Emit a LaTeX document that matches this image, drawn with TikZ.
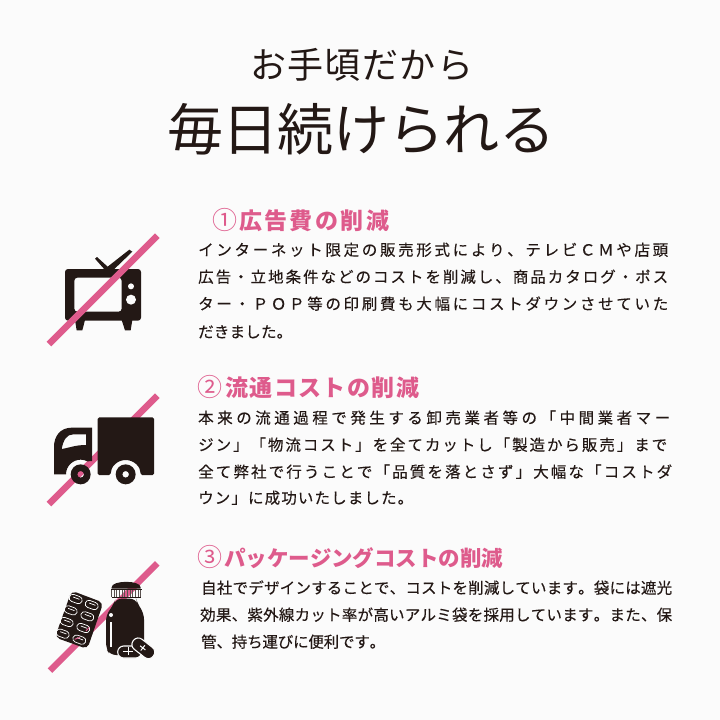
\documentclass[tikz,border=0pt]{standalone}
\usepackage{fontspec}
\newfontfamily\jp{Noto Sans CJK JP}
\newfontfamily\jpbody[FakeBold=0.2]{Noto Sans CJK JP}
\definecolor{ink}{HTML}{231815}
\definecolor{rosa}{HTML}{DE5B8C}
\definecolor{paper}{HTML}{FBFBFB}
\def\fititem#1{\ifx#1\relax\else #1\expandafter\fitnext\fi}
\def\fitnext#1{\ifx#1\relax\else\hskip 0pt plus 1fil minus 1fil #1\expandafter\fitnext\fi}
\newcommand\fitto[2]{\hbox to #1pt{\fititem#2\relax}}
\tikzset{
 headtext/.style={anchor=base west,inner sep=0pt,text=rosa,font=\jp\bfseries\fontsize{23}{24}\selectfont},
 headnum/.style={anchor=base west,inner sep=0pt,text=rosa,font=\jp\fontsize{25}{25}\selectfont},
 body/.style={anchor=base west,inner sep=0pt,text=ink,font=\jpbody\fontsize{15.5}{16}\selectfont},
 slash/.style={draw=rosa,line width=6.4pt},
 titletext/.style={anchor=base west,inner sep=0pt,text=ink},
 icon/.style={x=.33333pt,y=-.33333pt},
 capsule/.style={draw=white,line width=.7pt,rounded corners=3.6pt},
}
\begin{document}
\begin{tikzpicture}[x=1pt,y=-1pt]
\useasboundingbox (0,0) rectangle (720,720);
\fill[paper] (0,0) rectangle (720,720);
% titles
\node[titletext,font=\jp\fontsize{36}{37}\selectfont] (t1) at (250,78) {\fitto{223}{お手頃だから}};
\node[titletext,font=\jp\fontsize{56}{57}\selectfont] (t2) at (167,150) {\fitto{388}{毎日続けられる}};
% section 1
\node[headnum] (n1) at (212,229.5) {①};
\node[headtext] (h1) at (239,229.3) {\fitto{150}{広告費の削減}};
\node[body] (a1) at (198,255.6) {\fitto{470}{インターネット限定の販売形式により、テレビＣＭや店頭}};
\node[body] (a2) at (198,282.6) {\fitto{470}{広告・立地条件などのコストを削減し、商品カタログ・ポス}};
\node[body] (a3) at (198,309.6) {\fitto{470}{ター・ＰＯＰ等の印刷費も大幅にコストダウンさせていた}};
\node[body] (a4) at (198,337.6) {\fitto{94}{だきました。}};
% section 2
\node[headnum] (n2) at (197,396.5) {②};
\node[headtext] (h2) at (225,396.3) {\fitto{194}{流通コストの削減}};
\node[body] (b1) at (198,423.6) {\fitto{472}{本来の流通過程で発生する卸売業者等の「中間業者マー}};
\node[body] (b2) at (198,450.6) {\fitto{469}{ジン」「物流コスト」を全てカットし「製造から販売」まで}};
\node[body] (b3) at (198,477.6) {\fitto{474}{全て弊社で行うことで「品質を落とさず」大幅な「コストダ}};
\node[body] (b4) at (198,503.6) {\fitto{215}{ウン」に成功いたしました。}};
% section 3
\node[headnum] (n3) at (197,566.5) {③};
\node[headtext,font=\jp\bfseries\fontsize{21.5}{22}\selectfont] (h3) at (224,566) {\fitto{279}{パッケージングコストの削減}};
\node[body] (c1) at (201,593.6) {\fitto{471}{自社でデザインすることで、コストを削減しています。袋には遮光}};
\node[body] (c2) at (200,620.6) {\fitto{472}{効果、紫外線カット率が高いアルミ袋を採用しています。また、保}};
\node[body] (c3) at (201,647.6) {\fitto{184}{管、持ち運びに便利です。}};
% TV icon
\begin{scope}[shift={(30,220)},icon]
\fill[ink] (195,116) -- (201,111) -- (233,140) -- (298,89) -- (307,95) -- (250,150) -- (225,150) -- cycle;
\fill[ink,even odd rule,rounded corners=3pt] (105,147) rectangle (333,302) (133,173) rectangle (275,275);
\fill[paper] (303,199) circle (9) (303,239) circle (15);
\fill[ink] (135,300) -- (165,300) -- (157,331) -- (140,331) -- cycle (275,300) -- (307,300) -- (302,331) -- (285,331) -- cycle;
\draw[slash] (57,372) -- (382,47);
\end{scope}
% truck icon
\begin{scope}[shift={(30,380)},icon]
\draw[slash] (57,372) -- (382,47);
\fill[ink,rounded corners=1.5pt] (203,112) -- (372,112) -- (372,285) -- (332,285) arc[start angle=0,end angle=-180,radius=45] -- (203,285) -- cycle;
\fill[ink,even odd rule] (186,143) -- (125,143) .. controls (90,143) and (72,170) .. (72,200) -- (72,283) -- (108,283) arc[start angle=-180,end angle=-62,radius=44] -- (186,243) -- cycle
 (95,207) .. controls (100,180) and (110,163) .. (130,163) -- (168,163) -- (168,195) .. controls (135,195) and (120,203) .. (95,207) -- cycle;
\fill[ink,even odd rule] (152,283) circle (30) (152,283) circle (10);
\fill[ink,even odd rule] (287,283) circle (30) (287,283) circle (10);
\end{scope}
% pills icon
\begin{scope}[shift={(30,550)},icon]
\draw[slash] (60,362) -- (382,40);
\fill[ink,rounded corners=5pt] (125,122) -- (220,158) -- (172,297) -- (75,262) -- cycle;
\foreach \cx/\cy in {137/147,185/165,122/181,172/199,110/216,160/234,98/251,148/269}{
 \begin{scope}[shift={(\cx,\cy)},rotate=-20]
 \draw[capsule] (-20,-11) rectangle (20,11);
 \draw[white,line width=.7pt] (-9,-3) -- (11,-3);
 \end{scope}}
\draw[rosa,line width=1pt] (134,268) -- (150,262) (168,243) -- (178,232);
% bottle
\fill[ink] (245,112) .. controls (245,90) and (332,90) .. (332,112) -- (332,116) -- (245,116) -- cycle;
\foreach \rx in {244,252,...,332}{\draw[ink!75,line width=1pt] (\rx,117) -- (\rx,142);}
\draw[ink,line width=.8pt] (243,118) -- (335,118) (245,142) -- (333,142);
\fill[ink,rounded corners=6pt] (257,146) -- (318,146) -- (322,160) -- (342,190) -- (342,290) -- (330,315) -- (240,315) -- (228,295) -- (228,195) -- (250,165) -- cycle;
\fill[paper] (243,195) circle (6);
\fill[paper] (239,215) rectangle (247,292);
% capsules
\draw[paper,fill=ink,line width=1.1pt,rounded corners=6pt] (263,288) rectangle (335,324);
\begin{scope}[shift={(340,295)},rotate=-38]
\draw[paper,fill=ink,line width=1.1pt,rounded corners=6pt] (-38,-19) rectangle (38,19);
\draw[paper,line width=1pt] (-12,0) -- (8,0) (-2,-10) -- (-2,10);
\end{scope}
\draw[paper,line width=1pt] (280,303) -- (310,303) (295,292) -- (295,316);
\end{scope}
\end{tikzpicture}
\end{document}
